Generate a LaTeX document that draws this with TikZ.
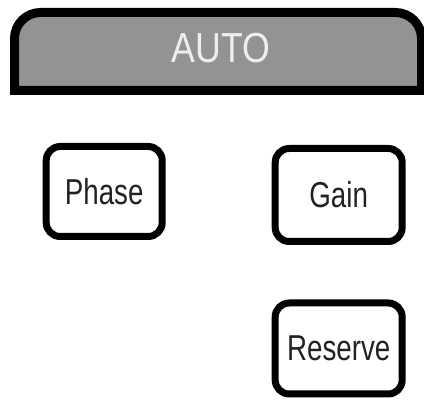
\documentclass[tikz,border=0pt]{standalone}
\usepackage{fontspec}
\setmainfont{Liberation Sans}
\definecolor{tabgray}{HTML}{939393}
\definecolor{tabtext}{HTML}{EEEEEE}
\definecolor{keytext}{HTML}{222222}

\begin{document}
\begin{tikzpicture}[x=1pt, y=-1pt,
      every node/.append style={inner sep=0pt},
      header/.style={draw=black, fill=tabgray, line width=9pt},
      key/.style={draw=black, line width=7pt, rounded corners=14pt,
        text=keytext, font=\fontsize{36}{36}\selectfont}]
    \useasboundingbox (0,0) rectangle (424,401);
    % AUTO tab across the top
    \draw[header] (14.5,90.5) -- (14.5,38.5)
      arc[start angle=180, end angle=270, radius=26] -- (395.5,12.5)
      arc[start angle=270, end angle=360, radius=26] -- (421.5,90.5) -- cycle;
    \node (auto) [anchor=base, text=tabtext, font=\fontsize{42}{42}\selectfont]
      at (221,63) {\scalebox{0.85}[1]{AUTO}};
    % keys
    \node (phase) [key, minimum width=116pt, minimum height=90pt]
      at (104.2,191.5) {\scalebox{0.77}[1]{Phase}};
    \node (gain) [key, minimum width=127pt, minimum height=93pt]
      at (338.7,195) {\scalebox{0.77}[1]{Gain}};
    \node (reserve) [key, minimum width=127pt, minimum height=91pt]
      at (338.7,348.5) {\scalebox{0.77}[1]{Reserve}};
  \end{tikzpicture}
\end{document}
